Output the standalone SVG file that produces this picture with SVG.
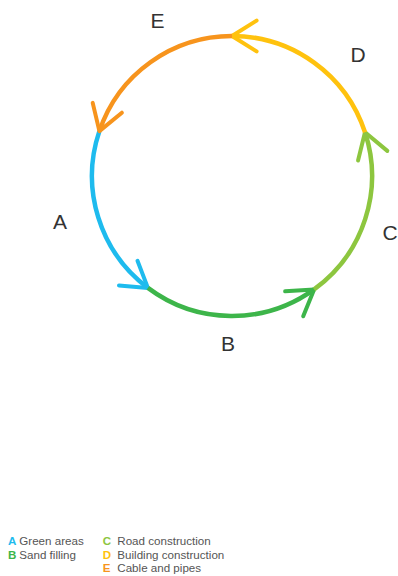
<svg xmlns="http://www.w3.org/2000/svg" width="398" height="576" viewBox="0 0 398 576">
<style>
.arc{fill:none;stroke-width:4.5;stroke-linecap:butt}
.head{fill:none;stroke-width:4;stroke-linecap:round;stroke-linejoin:round}
.lbl{font-family:"Liberation Sans",Arial,sans-serif;font-size:21px;fill:#333;text-anchor:middle;font-weight:300}
.leg{font-family:"Liberation Sans",Arial,sans-serif;font-size:11.6px;fill:#555}
.legk{font-weight:bold}
</style>
<defs>
<marker id="mA" markerUnits="userSpaceOnUse" orient="auto" refX="0" refY="0" markerWidth="40" markerHeight="40" overflow="visible"><path class="head" stroke="#1EBBEE" d="M-24.6,-15.4L0,0L-24.6,15.4"/></marker>
<marker id="mB" markerUnits="userSpaceOnUse" orient="auto" refX="0" refY="0" markerWidth="40" markerHeight="40" overflow="visible"><path class="head" stroke="#3DB54A" d="M-24.6,-15.4L0,0L-24.6,15.4"/></marker>
<marker id="mC" markerUnits="userSpaceOnUse" orient="auto" refX="0" refY="0" markerWidth="40" markerHeight="40" overflow="visible"><path class="head" stroke="#8DC63F" d="M-24.6,-15.4L0,0L-24.6,15.4"/></marker>
<marker id="mD" markerUnits="userSpaceOnUse" orient="auto" refX="0" refY="0" markerWidth="40" markerHeight="40" overflow="visible"><path class="head" stroke="#FFC20E" d="M-24.6,-15.4L0,0L-24.6,15.4"/></marker>
<marker id="mE" markerUnits="userSpaceOnUse" orient="auto" refX="0" refY="0" markerWidth="40" markerHeight="40" overflow="visible"><path class="head" stroke="#F7941D" d="M-24.6,-15.4L0,0L-24.6,15.4"/></marker>
</defs>
<g id="connectors">
<path id="arcA" class="arc" stroke="#1EBBEE" marker-end="url(#mA)" d="M99.4,131.1A140,140 0 0 0 147.9,287.9"/>
<path id="arcB" class="arc" stroke="#3DB54A" marker-end="url(#mB)" d="M147.9,287.9A140,140 0 0 0 314.1,289.4"/>
<path id="arcC" class="arc" stroke="#8DC63F" marker-end="url(#mC)" d="M314.1,289.4A140,140 0 0 0 365,132.3"/>
<path id="arcD" class="arc" stroke="#FFC20E" marker-end="url(#mD)" d="M365,132.3A140,140 0 0 0 232,36"/>
<path id="arcE" class="arc" stroke="#F7941D" marker-end="url(#mE)" d="M232,36A140,140 0 0 0 99.4,131.1"/>
</g>
<g id="nodeA"><text class="lbl" x="60" y="229">A</text></g>
<g id="nodeB"><text class="lbl" x="228" y="351">B</text></g>
<g id="nodeC"><text class="lbl" x="390" y="240">C</text></g>
<g id="nodeD"><text class="lbl" x="358" y="62">D</text></g>
<g id="nodeE"><text class="lbl" x="157.5" y="28.3">E</text></g>
<g id="legend" class="leg">
<text x="8" y="545"><tspan class="legk" fill="#1EBBEE">A</tspan></text><text x="19.3" y="545">Green areas</text>
<text x="8" y="559"><tspan class="legk" fill="#3DB54A">B</tspan></text><text x="19.3" y="559">Sand filling</text>
<text x="102.7" y="545"><tspan class="legk" fill="#8DC63F">C</tspan></text><text x="117.3" y="545">Road construction</text>
<text x="102.7" y="559"><tspan class="legk" fill="#FFC20E">D</tspan></text><text x="117.3" y="559">Building construction</text>
<text x="102.7" y="572"><tspan class="legk" fill="#F7941D">E</tspan></text><text x="117.3" y="572">Cable and pipes</text>
</g>
</svg>
